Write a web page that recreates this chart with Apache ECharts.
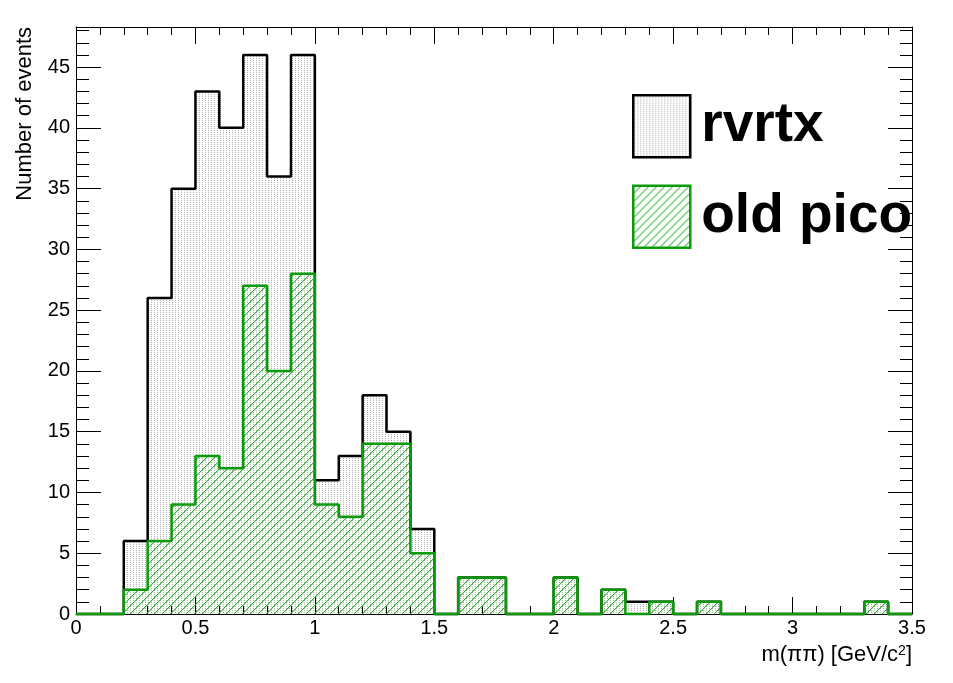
<!DOCTYPE html>
<html>
<head>
<meta charset="utf-8">
<script src="https://cdn.jsdelivr.net/npm/echarts@6/dist/echarts.min.js"></script>
<style>
html,body{margin:0;padding:0;background:#fff;}
#chart{width:953px;height:683px;}
</style>
</head>
<body>
<div id="chart"></div>
<script>
// Bin lower edges (bin width 0.1 GeV/c^2)
var binLow = [0.0,0.1,0.2,0.3,0.4,0.5,0.6,0.7,0.8,0.9,1.0,1.1,1.2,1.3,1.4,1.5,1.6,1.7,1.8,1.9,2.0,2.1,2.2,2.3,2.4,2.5,2.6,2.7,2.8,2.9,3.0,3.1,3.2,3.3,3.4];
var binHigh = 3.5;
var rvrtx = [0,0,6,26,35,43,40,46,36,46,11,13,18,15,7,0,3,3,0,0,3,0,2,1,1,0,1,0,0,0,0,0,0,1,0];
var oldPico = [0,0,2,6,9,13,12,27,20,28,9,8,14,14,5,0,3,3,0,0,3,0,2,0,1,0,1,0,0,0,0,0,0,1,0];
var xTicks = [0,0.5,1,1.5,2,2.5,3,3.5];
var yTicks = [0,5,10,15,20,25,30,35,40,45];
var yMax = 48.3;

function stepData(vals){
  var d = vals.map(function(v,i){ return [binLow[i], v]; });
  d.push([binHigh, vals[vals.length-1]]);
  return d;
}

function dotPattern(){
  var c = document.createElement('canvas');
  c.width = 3; c.height = 2;
  var g = c.getContext('2d');
  g.clearRect(0,0,3,2);
  g.fillStyle = '#b0b0b0'; g.fillRect(1,0,1,1);
  return {image: c, repeat: 'repeat'};
}
function hatchPattern(){
  var c = document.createElement('canvas');
  c.width = 8; c.height = 8;
  var g = c.getContext('2d');
  g.clearRect(0,0,8,8);
  for (var i = 0; i < 8; i++) {
    g.fillStyle = '#34b334'; g.fillRect(i, 7 - i, 1, 1);
    g.fillStyle = 'rgba(80,190,80,0.45)'; g.fillRect(i, (8 - i) % 8, 1, 1);
  }
  return {image: c, repeat: 'repeat'};
}
var dots = dotPattern();
var hatch = hatchPattern();
var green = '#0a9a0a';
var font = 'Liberation Sans, Arial, Helvetica, sans-serif';

var chart = echarts.init(document.getElementById('chart'));
var axLine = {show:true, onZero:false, lineStyle:{color:'#000', width:1}};
var noLine = {show:false, onZero:false};
var commonX = {type:'value', min:0, max:3.5, interval:0.5, splitLine:{show:false}};
var option = {
  animation: false,
  backgroundColor: '#fff',
  textStyle: {fontFamily: font},
  grid: {left:76, right:41, top:27, bottom:69, containLabel:false, show:false},
  legend: {
    left: 632, top: 94, orient: 'vertical', padding: 0,
    itemWidth: 57, itemHeight: 62, itemGap: 26, selectedMode: false,
    textStyle: {fontSize: 55, fontWeight: 'bold', color: '#000', fontFamily: font, padding: [0,0,0,6]},
    data: [
      {name:'rvrtx', icon:'rect', itemStyle:{color: dots, borderColor:'#000', borderWidth:2.5}},
      {name:'old pico', icon:'rect', itemStyle:{color: hatch, borderColor: green, borderWidth:2.5}}
    ]
  },
  xAxis: [
    Object.assign({}, commonX, {
      position:'bottom',
      axisLine: axLine,
      axisTick:{show:true, inside:true, length:17, lineStyle:{color:'#000', width:1}},
      minorTick:{show:true, splitNumber:5, length:8, lineStyle:{color:'#000', width:1}},
      axisLabel:{fontSize:20, color:'#000', margin:4, fontFamily:font,
        formatter:function(v){ return xTicks.indexOf(+v.toFixed(2))>=0 ? String(+v.toFixed(2)) : ''; }},
      name:'m(\u03c0\u03c0) [GeV/c{sup|2}]',
      nameLocation:'end', nameGap:0,
      nameTextStyle:{fontSize:22, color:'#000', fontFamily:font, align:'right', verticalAlign:'top',
        padding:[30,0,0,0], rich:{sup:{fontSize:14, color:'#000', verticalAlign:'top', lineHeight:14, fontFamily:font}}}
    }),
    Object.assign({}, commonX, {
      position:'top',
      axisLine: axLine,
      axisTick:{show:true, inside:true, length:17, lineStyle:{color:'#000', width:1}},
      minorTick:{show:true, splitNumber:5, length:8, lineStyle:{color:'#000', width:1}},
      axisLabel:{show:false}
    })
  ],
  yAxis: [
    {type:'value', min:0, max:yMax, interval:5, position:'left', splitLine:{show:false},
      axisLine: axLine,
      axisTick:{show:true, inside:true, length:25, lineStyle:{color:'#000', width:1}},
      axisLabel:{fontSize:20, color:'#000', margin:6, fontFamily:font,
        formatter:function(v){ return yTicks.indexOf(Math.round(v*100)/100)>=0 ? String(v) : ''; }}},
    {type:'value', min:0, max:yMax, interval:1, position:'left', splitLine:{show:false},
      axisLine: noLine,
      axisTick:{show:true, inside:true, length:13, lineStyle:{color:'#000', width:1}},
      axisLabel:{show:false}},
    {type:'value', min:0, max:yMax, interval:5, position:'right', splitLine:{show:false},
      axisLine: axLine,
      axisTick:{show:true, inside:true, length:24, lineStyle:{color:'#000', width:1}},
      axisLabel:{show:false}},
    {type:'value', min:0, max:yMax, interval:1, position:'right', splitLine:{show:false},
      axisLine: noLine,
      axisTick:{show:true, inside:true, length:12, lineStyle:{color:'#000', width:1}},
      axisLabel:{show:false}},
    {type:'value', min:0, max:yMax, position:'left', offset:51, splitLine:{show:false},
      axisLine: noLine, axisTick:{show:false}, axisLabel:{show:false},
      name:'Number of events', nameLocation:'end', nameGap:0, nameRotate:90,
      nameTextStyle:{fontSize:22, color:'#000', fontFamily:font, align:'right', verticalAlign:'middle'}}
  ],
  series: [
    {name:'rvrtx', type:'line', step:'end', xAxisIndex:0, yAxisIndex:0, symbol:'none', clip:false, z:2,
      data: stepData(rvrtx),
      itemStyle:{color:'#000'},
      lineStyle:{color:'#000', width:2.5},
      areaStyle:{color: dots, opacity:1, origin:'start'}},
    {name:'old pico', type:'line', step:'end', xAxisIndex:0, yAxisIndex:0, symbol:'none', clip:false, z:3,
      data: stepData(oldPico),
      itemStyle:{color:green},
      lineStyle:{color:green, width:2.5},
      areaStyle:{color: hatch, opacity:1, origin:'start'}}
  ]
};
chart.setOption(option);
</script>
</body>
</html>
